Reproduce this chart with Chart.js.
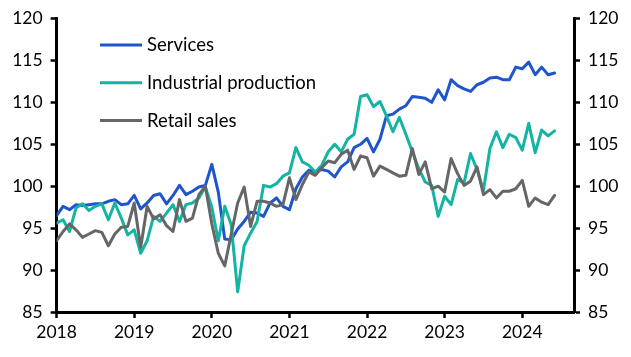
<!DOCTYPE html>
<html>
<head>
<meta charset="utf-8">
<script src="https://cdn.jsdelivr.net/npm/chart.js@4/dist/chart.umd.min.js"></script>
<style>
html,body{margin:0;padding:0;background:#fff;}
#wrap{width:631px;height:357px;}
</style>
</head>
<body>
<div id="wrap"><canvas id="c" width="631" height="357"></canvas></div>
<script>
// Monthly data, Jan 2018 .. Jun 2024 (index 0 = Jan 2018)
const startYear = 2018;
const yearTicks = ["2018","2019","2020","2021","2022","2023","2024"];
const yTicks = [85, 90, 95, 100, 105, 110, 115, 120];
const seriesNames = ["Services", "Industrial production", "Retail sales"];

const services = [
 96.5, 97.6, 97.2, 97.8, 97.7, 97.8, 97.9, 97.9, 98.2, 98.4, 97.8, 97.9,
 98.9, 97.3, 98.0, 98.9, 99.1, 97.9, 98.9, 100.1, 99.0, 99.4, 99.9, 100.1,
 102.6, 99.3, 93.7, 93.6, 94.9, 95.8, 96.9, 96.8, 96.4, 98.0, 98.6, 97.6,
 97.2, 99.7, 101.1, 101.9, 101.7, 102.0, 101.8, 101.1, 102.3, 102.9, 104.6, 105.0,
 105.7, 104.1, 105.6, 108.4, 108.6, 109.2, 109.6, 110.7, 110.6, 110.5, 110.0, 111.5,
 110.3, 112.7, 112.0, 111.6, 111.3, 112.1, 112.4, 112.9, 113.0, 112.7, 112.7, 114.2,
 114.0, 114.8, 113.3, 114.2, 113.3, 113.5
];
const industrial = [
 95.6, 96.0, 94.6, 97.4, 97.9, 97.1, 97.6, 97.9, 96.0, 98.0, 96.2, 94.2,
 94.8, 92.0, 93.5, 96.4, 95.8, 96.8, 97.8, 95.8, 97.8, 98.0, 98.6, 99.9,
 97.5, 93.5, 97.6, 95.4, 87.4, 92.9, 94.4, 95.8, 100.1, 99.9, 100.3, 101.2,
 101.6, 104.6, 102.9, 102.5, 101.7, 102.5, 104.1, 105.0, 104.1, 105.6, 106.2, 110.7,
 110.9, 109.5, 110.1, 108.4, 106.5, 108.2, 106.2, 104.1, 102.1, 100.5, 100.1, 96.4,
 98.8, 97.8, 100.8, 100.4, 103.9, 102.0, 99.5, 104.5, 106.5, 104.6, 106.2, 105.8,
 104.3, 107.5, 104.0, 106.7, 106.0, 106.6
];
const retail = [
 93.5, 94.6, 95.5, 94.8, 93.9, 94.3, 94.7, 94.5, 92.9, 94.3, 95.1, 95.2,
 98.0, 92.7, 97.6, 96.1, 96.6, 95.3, 94.6, 98.4, 95.8, 96.2, 99.0, 100.0,
 95.5, 92.0, 90.5, 94.3, 98.0, 99.9, 95.2, 98.2, 98.2, 98.0, 97.6, 97.8,
 101.0, 98.4, 100.2, 101.7, 101.3, 102.2, 103.0, 102.8, 103.8, 104.3, 102.0, 103.6,
 103.4, 101.2, 102.4, 102.0, 101.6, 101.2, 101.3, 104.5, 101.4, 102.9, 99.7, 100.0,
 99.3, 103.3, 101.5, 100.1, 100.6, 102.3, 99.0, 99.6, 98.6, 99.4, 99.4, 99.7,
 100.7, 97.6, 98.6, 98.1, 97.8, 98.9
];

const colors = ["#1f55cc", "#14b4a4", "#666666"];
const FONT = "Lato, 'Open Sans', sans-serif";

function toXY(arr){ return arr.map((v,i)=>({x:i, y:v})); }

const legendPlugin = {
  id: 'customLegend',
  afterDatasetsDraw(chart){
    const ctx = chart.ctx;
    const ds = chart.data.datasets;
    ctx.save();
    ctx.font = "18.5px " + FONT;
    ctx.textBaseline = 'middle';
    ctx.fillStyle = '#000';
    [0,1,2].forEach((k, i) => {
      const y = 45 + i * 37.8;
      ctx.strokeStyle = ds[k].borderColor;
      ctx.lineWidth = 3;
      ctx.beginPath();
      ctx.moveTo(100, y);
      ctx.lineTo(142, y);
      ctx.stroke();
      ctx.fillText(ds[k].label, 147, y + 0.5);
    });
    ctx.restore();
  }
};

function yAxis(pos){
  return {
    type: 'linear',
    position: pos,
    min: 85, max: 120,
    afterBuildTicks(scale){ scale.ticks = yTicks.map(v=>({value:v})); },
    afterFit(scale){ scale.width = pos === 'left' ? 56.6 : 57; },
    grid: { display: true, drawOnChartArea: false, drawTicks: true, tickLength: 6, tickWidth: 2.5, color: '#000' },
    border: { display: true, width: 3, color: '#000' },
    ticks: { color: '#000', font: { family: FONT, size: 17.5 }, padding: 8 }
  };
}

new Chart(document.getElementById('c'), {
  type: 'line',
  data: {
    datasets: [
      { label: seriesNames[0], data: toXY(services), borderColor: colors[0], order: 3 },
      { label: seriesNames[1], data: toXY(industrial), borderColor: colors[1], order: 2 },
      { label: seriesNames[2], data: toXY(retail), borderColor: colors[2], order: 1 }
    ]
  },
  options: {
    responsive: false,
    animation: false,
    events: [],
    layout: { padding: { top: 14.5, left: 0, right: 0, bottom: 0 } },
    elements: {
      line: { borderWidth: 3, tension: 0, borderJoinStyle: 'round', borderCapStyle: 'round' },
      point: { radius: 0 }
    },
    plugins: { legend: { display: false }, tooltip: { enabled: false } },
    scales: {
      x: {
        type: 'linear',
        min: 0, max: 80,
        afterBuildTicks(scale){ scale.ticks = yearTicks.map((t,i)=>({value:i*12})); },
        afterFit(scale){ scale.height = 45; },
        grid: { display: true, drawOnChartArea: false, drawTicks: true, tickLength: 6, tickWidth: 2.5, color: '#000' },
        border: { display: true, width: 3, color: '#000' },
        ticks: {
          color: '#000', font: { family: FONT, size: 17.5 }, padding: 4, maxRotation: 0,
          callback: (v) => yearTicks[Math.round(v/12)]
        }
      },
      y: yAxis('left'),
      y2: yAxis('right')
    }
  },
  plugins: [legendPlugin]
});
</script>
</body>
</html>
